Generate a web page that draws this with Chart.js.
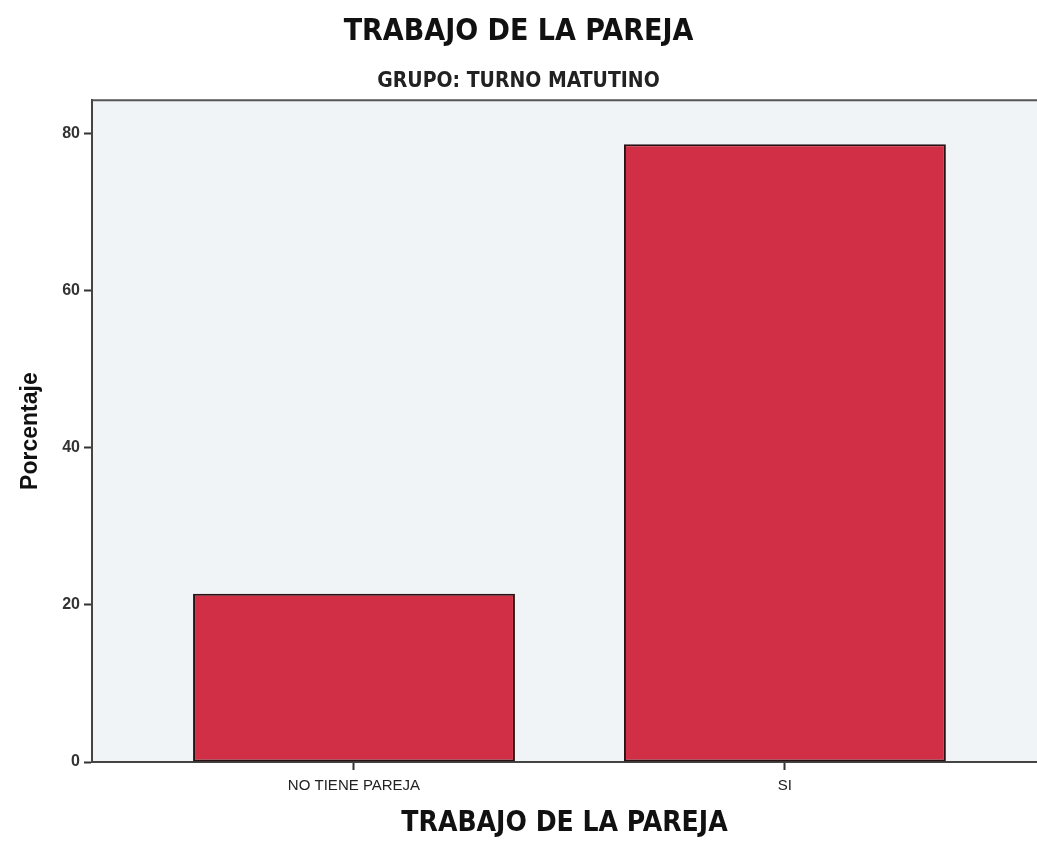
<!DOCTYPE html>
<html>
<head>
<meta charset="utf-8">
<script src="https://cdn.jsdelivr.net/npm/chart.js@4/dist/chart.umd.min.js"></script>
<style>
  html, body { margin: 0; padding: 0; background: #fff; }
  #wrap { width: 1037px; height: 841px; }
</style>
</head>
<body>
<div id="wrap"><canvas id="chart"></canvas></div>
<script>
// ── Data ──────────────────────────────────────────────────────
const categories = ['NO TIENE PAREJA', 'SI'];
const percentages = [21.4, 78.6];
const yTicks = [0, 20, 40, 60, 80];

const NARROW = "'Liberation Sans Narrow', 'DejaVu Sans Condensed', 'Liberation Sans', sans-serif";
const SANS = "'Liberation Sans', Arial, sans-serif";

// ── Plot panel: grey fill + top frame line ────────────────────
const panel = {
  id: 'panel',
  beforeDraw(chart) {
    const { ctx, chartArea: a } = chart;
    ctx.save();
    ctx.fillStyle = '#f1f4f6';
    ctx.fillRect(a.left, a.top, a.right - a.left, a.bottom - a.top);
    ctx.restore();
  },
  afterDraw(chart) {
    const { ctx, chartArea: a } = chart;
    ctx.save();
    ctx.strokeStyle = '#555';
    ctx.lineWidth = 2;
    ctx.beginPath();
    ctx.moveTo(a.left, a.top);
    ctx.lineTo(a.right, a.top);
    ctx.stroke();
    ctx.restore();
  }
};

new Chart(document.getElementById('chart'), {
  type: 'bar',
  data: {
    datasets: [{
      data: percentages.map((v, i) => ({ x: i, y: v })),
      backgroundColor: '#d02f46',
      borderColor: '#2a1214',
      borderWidth: 2,
      borderSkipped: false,
      barPercentage: 0.747,
      categoryPercentage: 1
    }]
  },
  plugins: [panel],
  options: {
    responsive: true,
    maintainAspectRatio: false,
    animation: false,
    layout: { padding: 0 },
    plugins: {
      legend: { display: false },
      tooltip: { enabled: false },
      title: {
        display: true,
        text: 'TRABAJO DE LA PAREJA',
        color: '#111',
        font: { family: NARROW, size: 30, weight: 'bold' },
        padding: { top: 14, bottom: 2 }
      },
      subtitle: {
        display: true,
        text: 'GRUPO: TURNO MATUTINO',
        color: '#222',
        font: { family: NARROW, size: 21, weight: 'bold' },
        padding: { top: 17, bottom: 6 }
      }
    },
    scales: {
      x: {
        type: 'linear',
        offset: false,
        min: -0.608,
        max: 1.585,
        afterBuildTicks: s => { s.ticks = categories.map((c, i) => ({ value: i })); },
        afterFit: s => { s.height = 79; },
        ticks: {
          callback: v => categories[v],
          color: '#222',
          font: { family: SANS, size: 15 },
          padding: 7,
          maxRotation: 0
        },
        grid: { offset: false, drawOnChartArea: false, color: '#333', tickLength: 8, tickWidth: 2 },
        border: { color: '#444', width: 2 },
        title: {
          display: true,
          text: 'TRABAJO DE LA PAREJA',
          color: '#111',
          font: { family: NARROW, size: 28, weight: 'bold' },
          padding: { top: 0, bottom: 0 }
        }
      },
      y: {
        min: 0,
        max: 84.2,
        afterBuildTicks: s => { s.ticks = yTicks.map(v => ({ value: v })); },
        afterFit: s => { s.width = 92; },
        ticks: {
          color: '#333',
          font: { family: SANS, size: 16, weight: 'bold' },
          padding: 4
        },
        grid: { drawOnChartArea: false, color: '#333', tickLength: 8, tickWidth: 2 },
        border: { color: '#444', width: 2 },
        title: {
          display: true,
          text: 'Porcentaje',
          color: '#111',
          font: { family: SANS, size: 23, weight: 'bold' },
          padding: { top: 17, bottom: 0 }
        }
      }
    }
  }
});
</script>
</body>
</html>
